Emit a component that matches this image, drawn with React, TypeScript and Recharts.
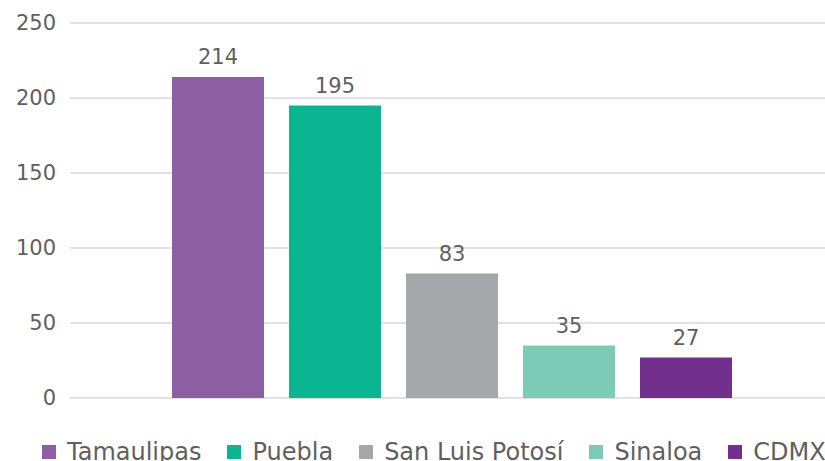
import React from 'react';
import { BarChart, Bar, XAxis, YAxis, CartesianGrid, Legend, LabelList } from 'recharts';

const categories = ['Estados'];
const seriesNames = ['Tamaulipas', 'Puebla', 'San Luis Potosí', 'Sinaloa', 'CDMX'];
const seriesValues = [214, 195, 83, 35, 27];
const yTicks = [0, 50, 100, 150, 200, 250];

const colors = ['#8E5EA2', '#0BB592', '#A5A8AA', '#7DCBB6', '#722F8E'];
const FONT = '"DejaVu Sans", sans-serif';
const TEXT = '#5f5f5f';

const data = categories.map((c) => {
  const row: Record<string, string | number> = { name: c };
  seriesNames.forEach((_, i) => {
    row['s' + i] = seriesValues[i];
  });
  return row;
});

const renderLegend = () => (
  <div style={{ display: 'flex', alignItems: 'center', height: 30, fontFamily: FONT, fontSize: 24, color: TEXT, whiteSpace: 'nowrap' }}>
    {seriesNames.map((n, i) => (
      <div key={n} style={{ display: 'flex', alignItems: 'center', marginRight: 26, lineHeight: '30px' }}>
        <span style={{ display: 'inline-block', width: 14, height: 14, background: colors[i], marginRight: 11 }} />
        <span>{n}</span>
      </div>
    ))}
  </div>
);

export default function App() {
  return (
    <div style={{ position: 'absolute', left: 0, top: 0, width: 825, height: 461, overflow: 'hidden', background: '#fff' }}>
      <BarChart
        width={845}
        height={461}
        data={data}
        margin={{ top: 23, right: 11, left: 0, bottom: 33 }}
        barSize={92}
        barGap={25}
      >
        <CartesianGrid vertical={false} stroke="#D9D9D9" strokeWidth={1.3} />
        <XAxis dataKey="name" tick={false} tickLine={false} height={0} axisLine={{ stroke: '#A6A6A6', strokeWidth: 2 }} />
        <YAxis
          width={70}
          domain={[0, 250]}
          ticks={yTicks}
          axisLine={false}
          tickLine={false}
          tickSize={0}
          tickMargin={14}
          tick={{ fill: TEXT, fontSize: 21, fontFamily: FONT }}
        />
        <Legend
          content={renderLegend}
          wrapperStyle={{ position: 'absolute', top: 437, left: 42, bottom: 'auto', width: 'auto', height: 30 }}
        />
        {seriesNames.map((n, i) => (
          <Bar key={n} dataKey={'s' + i} name={n} fill={colors[i]} isAnimationActive={false}>
            <LabelList dataKey={'s' + i} position="top" offset={13} fill={TEXT} fontSize={21} fontFamily={FONT} />
          </Bar>
        ))}
      </BarChart>
    </div>
  );
}
